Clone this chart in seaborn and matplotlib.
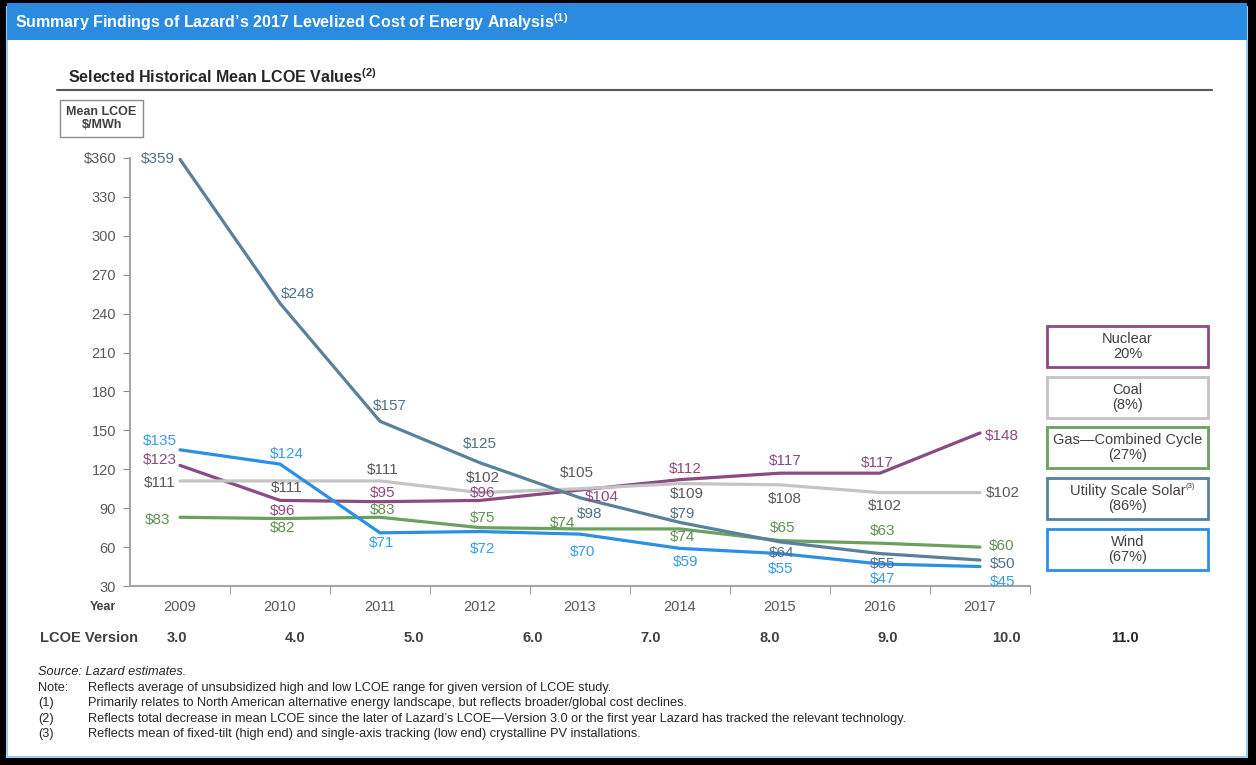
import numpy as np
import pandas as pd
import matplotlib
matplotlib.use("Agg")
import matplotlib.pyplot as plt
from matplotlib.patches import Rectangle
from matplotlib.lines import Line2D
from matplotlib.text import Annotation
import seaborn as sns

# --- data ---
years = [2009, 2010, 2011, 2012, 2013, 2014, 2015, 2016, 2017]
nuclear = [123, 96, 95, 96, 104, 112, 117, 117, 148]
coal = [111, 111, 111, 102, 105, 109, 108, 102, 102]
gas = [83, 82, 83, 75, 74, 74, 65, 63, 60]
solar = [359, 248, 157, 125, 98, 79, 64, 55, 50]
wind = [135, 124, 71, 72, 70, 59, 55, 47, 45]
versions = ["3.0", "4.0", "5.0", "6.0", "7.0", "8.0", "9.0", "10.0", "11.0"]
legend_names = ["Nuclear", "Coal", "Gas\u2014Combined Cycle", "Utility Scale Solar", "Wind"]
legend_sups = ["", "", "", "(3)", ""]
legend_pcts = ["20%", "(8%)", "(27%)", "(86%)", "(67%)"]

series = {"Nuclear": nuclear, "Coal": coal, "Gas": gas, "Solar": solar, "Wind": wind}
line_colors = {"Nuclear": "#8B4A82", "Coal": "#C4C4C4", "Gas": "#6BA05E",
               "Solar": "#5B8099", "Wind": "#2B8FE8"}
text_colors = {"Nuclear": "#8B4A82", "Coal": "#595959", "Gas": "#5E9150",
               "Solar": "#4E7088", "Wind": "#3A9BE8"}

# label offsets in pixels (dx, dy up) for each point
offsets = {
    "Nuclear": [(-20, 5), (3, -11), (3, 9), (3, 7), (22, -7), (5, 11), (5, 12), (-3, 10), (22, -3)],
    "Coal": [(-20, -2), (7, -7), (3, 11), (3, 15), (-3, 16), (7, -10), (5, -14), (5, -13), (23, 0)],
    "Gas": [(-22, -3), (3, -9), (3, 7), (3, 10), (-17, 6), (3, -8), (3, 13), (3, 12), (22, 1)],
    "Solar": [(-22, 0), (18, 9), (10, 15), (0, 19), (10, -16), (3, 8), (2, -11), (3, -10), (23, -4)],
    "Wind": [(-20, 9), (7, 10), (2, -10), (3, -17), (3, -18), (6, -14), (1, -15), (3, -15), (23, -15)],
}

df = pd.DataFrame([
    {"Year": y, "Tech": k, "LCOE": v}
    for k, vals in series.items() for y, v in zip(years, vals)
])

sns.set_style("white")
plt.rcParams["font.family"] = ["Liberation Sans", "DejaVu Sans"]
plt.rcParams["mathtext.fontset"] = "custom"
plt.rcParams["mathtext.rm"] = "Liberation Sans"

W, H = 1256, 765
fig = plt.figure(figsize=(W / 100, H / 100), dpi=100, facecolor="black")


def fx(x):
    return x / W


def fy(y):
    return 1 - y / H


# white panel + blue header (kept behind the axes)
fig.patches.append(Rectangle((fx(7), fy(757)), fx(1240), 750 / H, transform=fig.transFigure,
                             facecolor="white", edgecolor="#9CCBF2", lw=1.5, zorder=-3))
fig.patches.append(Rectangle((fx(7), fy(40)), fx(1240), 37 / H, transform=fig.transFigure,
                             facecolor="#2A8BE0", edgecolor="none", zorder=-2))
fig.text(fx(15), fy(22), "Summary Findings of Lazard\u2019s 2017 Levelized Cost of Energy Analysis$^{\\mathregular{(1)}}$",
         color="white", fontsize=11.5, fontweight="bold", va="center", ha="left")

fig.text(fx(68), fy(77), "Selected Historical Mean LCOE Values$^{\\mathregular{(2)}}$",
         color="#262626", fontsize=11.5, fontweight="bold", va="center", ha="left")
fig.lines.append(Line2D([fx(57), fx(1212)], [fy(90), fy(90)], transform=fig.transFigure,
                        color="#595959", lw=1.5))

fig.patches.append(Rectangle((fx(60), fy(137)), fx(83), 37 / H, transform=fig.transFigure,
                             facecolor="white", edgecolor="#8C8C8C", lw=1))
fig.text(fx(101.5), fy(118.5), "Mean LCOE\n$/MWh", fontsize=9, fontweight="bold",
         color="#404040", ha="center", va="center", linespacing=1.15)

# --- main axes ---
ax = fig.add_axes([fx(130), fy(586), 900 / W, 428 / H])
ax.set_facecolor("none")
sns.lineplot(data=df, x="Year", y="LCOE", hue="Tech", palette=line_colors,
             linewidth=2.3, legend=False, ax=ax, sort=False)

for tech, vals in series.items():
    for y, v, (dx, dy) in zip(years, vals, offsets[tech]):
        ax.annotate(f"${v}", (y, v), xytext=(dx, dy), textcoords="offset pixels",
                    ha="center", va="center", fontsize=11, color=text_colors[tech])

ax.set_xlim(2008.5, 2017.5)
ax.set_ylim(30, 360)
ax.set_yticks(np.arange(30, 361, 30))
ax.set_yticklabels([f"${t}" if t == 360 else str(t) for t in np.arange(30, 361, 30)])
ax.set_xticks(years)
ax.set_xticklabels([str(y) for y in years])
ax.set_xticks(np.arange(2009.5, 2018, 1), minor=True)
ax.tick_params(axis="x", which="major", length=0, pad=10, labelsize=10.5, labelcolor="#595959")
ax.tick_params(axis="x", which="minor", length=6, direction="out", color="#8C8C8C", bottom=True)
ax.tick_params(axis="y", length=5, direction="out", color="#8C8C8C", labelsize=10.5,
               labelcolor="#595959", left=True, pad=5)
ax.set_xlabel("")
ax.set_ylabel("")
for s in ["top", "right"]:
    ax.spines[s].set_visible(False)
for s in ["left", "bottom"]:
    ax.spines[s].set_color("#A6A6A6")
    ax.spines[s].set_linewidth(1.5)

fig.text(fx(103), fy(607), "Year", fontsize=9, fontweight="bold", color="#404040",
         ha="center", va="center")

# LCOE version row
fig.text(fx(40), fy(638), "LCOE Version", fontsize=10.5, fontweight="bold", color="#404040",
         ha="left", va="center")
for i, ver in enumerate(versions):
    fig.text(fx(177 + 118.5 * i), fy(638), ver, fontsize=10.5, fontweight="bold",
             color="#262626" if i == len(versions) - 1 else "#404040", ha="center", va="center")

# legend boxes on the right
box_tops = [326, 377, 427, 478, 529]
for tech, name, sup, pct, top in zip(series.keys(), legend_names, legend_sups, legend_pcts, box_tops):
    fig.patches.append(Rectangle((fx(1047), fy(top + 41)), fx(161), 41 / H,
                                 transform=fig.transFigure, facecolor="none",
                                 edgecolor=line_colors[tech], lw=2))
    t = fig.text(fx(1127.5), fy(top + 13), name, fontsize=10.5, color="#404040",
                 ha="center", va="center")
    if sup:
        fig.add_artist(Annotation(sup, xy=(1.0, 0.85), xycoords=t, fontsize=5.5,
                                  color="#404040", ha="left", va="center"))
    fig.text(fx(1127.5), fy(top + 28), pct, fontsize=10.5, color="#404040", ha="center", va="center")

# footnotes
fig.text(fx(38), fy(672), "Source: Lazard estimates.", fontsize=9.2, style="italic",
         color="#262626", va="center")
notes = [
    ("Note:", "Reflects average of unsubsidized high and low LCOE range for given version of LCOE study."),
    ("(1)", "Primarily relates to North American alternative energy landscape, but reflects broader/global cost declines."),
    ("(2)", "Reflects total decrease in mean LCOE since the later of Lazard\u2019s LCOE\u2014Version 3.0 or the first year Lazard has tracked the relevant technology."),
    ("(3)", "Reflects mean of fixed-tilt (high end) and single-axis tracking (low end) crystalline PV installations."),
]
for i, (tag, txt) in enumerate(notes):
    yy = 688 + 15.3 * i
    fig.text(fx(38), fy(yy), tag, fontsize=9.2, color="#262626", va="center")
    fig.text(fx(88), fy(yy), txt, fontsize=9.2, color="#262626", va="center")

fig.savefig("out.png", dpi=100, facecolor=fig.get_facecolor())
